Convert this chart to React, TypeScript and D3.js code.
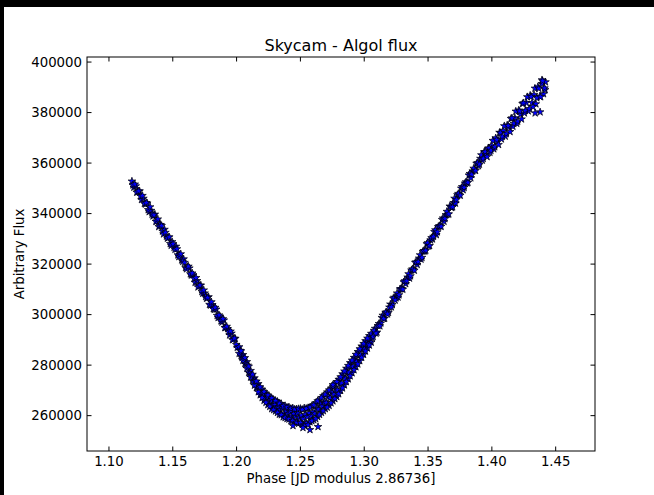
import React from "react";
import * as d3 from "d3";

/* ---------- data ---------- */
const xTicks = [1.1, 1.15, 1.2, 1.25, 1.3, 1.35, 1.4, 1.45];
const yTicks = [260000, 280000, 300000, 320000, 340000, 360000, 380000, 400000];

// descending branch (left side of the dip)
const fallPhase = [
  1.118, 1.1195, 1.121, 1.1225, 1.124, 1.1255, 1.127, 1.1285, 1.13, 1.1315,
  1.133, 1.1345, 1.136, 1.1375, 1.139, 1.1405, 1.142, 1.1435, 1.145, 1.1465,
  1.148, 1.1495, 1.151, 1.1525, 1.154, 1.1555, 1.157, 1.1585, 1.16, 1.1615,
  1.163, 1.1645, 1.166, 1.1675, 1.169, 1.1705, 1.172, 1.1735, 1.175, 1.1765,
  1.178, 1.1795, 1.181, 1.1825, 1.184, 1.1855, 1.187, 1.1885, 1.19, 1.1915,
  1.193, 1.1945, 1.196, 1.1975, 1.199, 1.2005,
];
const fallFlux = [
  352800, 350400, 350900, 348600, 348900, 345500, 346000, 343700, 344100, 340700,
  341200, 339000, 339700, 337000, 334800, 335600, 333000, 333700, 331000, 330600,
  328100, 328800, 326600, 327000, 323600, 323700, 321600, 322000, 318600, 318900,
  318400, 315600, 315700, 312700, 313400, 311300, 311600, 308400, 308500, 306400,
  307000, 303700, 303900, 302000, 302100, 298800, 299300, 297000, 297800, 294900,
  294400, 291900, 292600, 290200, 290500, 287000,
];
const fallPhase2 = [
  1.11875, 1.12025, 1.12175, 1.12325, 1.12475, 1.12625, 1.12775, 1.12925, 1.13075, 1.13225,
  1.13375, 1.13525, 1.13675, 1.13825, 1.13975, 1.14125, 1.14275, 1.14425, 1.14575, 1.14725,
  1.14875, 1.15025, 1.15175, 1.15325, 1.15475, 1.15625, 1.15775, 1.15925, 1.16075, 1.16225,
  1.16375, 1.16525, 1.16675, 1.16825, 1.16975, 1.17125, 1.17275, 1.17425, 1.17575, 1.17725,
  1.17875, 1.18025, 1.18175, 1.18325, 1.18475, 1.18625, 1.18775, 1.18925, 1.19075, 1.19225,
  1.19375, 1.19525, 1.19675, 1.19825, 1.19975,
];
const fallFlux2 = [
  351300, 351600, 348400, 348900, 346900, 347100, 344000, 344300, 341500, 342600,
  339700, 339400, 336900, 337800, 335400, 335200, 331900, 332500, 330200, 330700,
  327400, 328000, 325800, 326000, 322900, 324000, 321000, 320600, 318100, 319100,
  316100, 316400, 314300, 314600, 310900, 311600, 309100, 309700, 307100, 306700,
  304000, 305000, 302300, 302800, 299600, 299800, 297500, 298300, 294800, 295300,
  293300, 293400, 290000, 290600, 288100,
];

// bottom of the dip
const dipPhase = [
  1.202, 1.2035, 1.205, 1.2065, 1.208, 1.2095, 1.211, 1.2125, 1.214, 1.2155,
  1.217, 1.2185, 1.22, 1.2215, 1.223, 1.2245, 1.226, 1.2275, 1.229, 1.2305,
  1.232, 1.2335, 1.235, 1.2365, 1.238, 1.2395, 1.241, 1.2425, 1.244, 1.2455,
  1.247, 1.2485, 1.25, 1.2515, 1.253, 1.2545, 1.256, 1.2575, 1.259, 1.2605,
  1.262, 1.2635, 1.265, 1.2665, 1.268, 1.2695, 1.271, 1.2725, 1.274, 1.2755,
  1.277, 1.2785, 1.28, 1.2815, 1.283, 1.2845, 1.286, 1.2875, 1.289, 1.2905,
  1.292, 1.2935, 1.295, 1.2965, 1.298, 1.2995, 1.301, 1.3025, 1.304, 1.3055,
];
const dipFluxA = [
  287200, 283700, 284100, 280600, 281300, 277100, 277800, 273900, 274900, 271000,
  272600, 268200, 270400, 266000, 268800, 264300, 267400, 262700, 266200, 261800,
  265600, 260500, 264700, 259500, 263900, 258800, 263400, 257900, 263000, 257600,
  262600, 256900, 262800, 256500, 263000, 257000, 263100, 257500, 263900, 258300,
  265000, 259600, 266200, 261200, 267800, 262700, 269300, 264000, 270800, 265800,
  272500, 267500, 274300, 269900, 276500, 272100, 278700, 274500, 280900, 276900,
  283000, 279300, 285300, 281700, 287500, 284200, 289600, 286700, 291600, 289000,
];
const dipFluxB = [
  284600, 285600, 281800, 282900, 278700, 279500, 275200, 276300, 272000, 273600,
  269400, 271300, 267100, 269500, 265200, 268100, 263600, 266900, 262300, 265900,
  261200, 264800, 260300, 263800, 259200, 263300, 258600, 262800, 258000, 262500,
  257300, 262700, 257200, 262400, 256200, 262800, 256300, 263300, 257900, 264200,
  258800, 265800, 260400, 267100, 261900, 268400, 263300, 270100, 265000, 271600,
  266700, 273400, 268600, 275300, 270900, 277600, 273400, 279800, 275700, 281900,
  278100, 284200, 280400, 286400, 283000, 288500, 285500, 290600, 287900, 292500,
];
const dipPhase2 = [
  1.20275, 1.20425, 1.20575, 1.20725, 1.20875, 1.21025, 1.21175, 1.21325, 1.21475, 1.21625,
  1.21775, 1.21925, 1.22075, 1.22225, 1.22375, 1.22525, 1.22675, 1.22825, 1.22975, 1.23125,
  1.23275, 1.23425, 1.23575, 1.23725, 1.23875, 1.24025, 1.24175, 1.24325, 1.24475, 1.24625,
  1.24775, 1.24925, 1.25075, 1.25225, 1.25375, 1.25525, 1.25675, 1.25825, 1.25975, 1.26125,
  1.26275, 1.26425, 1.26575, 1.26725, 1.26875, 1.27025, 1.27175, 1.27325, 1.27475, 1.27625,
  1.27775, 1.27925, 1.28075, 1.28225, 1.28375, 1.28525, 1.28675, 1.28825, 1.28975, 1.29125,
  1.29275, 1.29425, 1.29575, 1.29725, 1.29875, 1.30025, 1.30175, 1.30325, 1.30475, 1.30625,
];
const dipFluxC = [
  285800, 283000, 282600, 280300, 279900, 276700, 276000, 273400, 273500, 271300,
  271100, 268800, 268800, 266600, 267200, 265500, 266100, 264000, 264300, 262800,
  263500, 262200, 263000, 260900, 261800, 260600, 261500, 259800, 260800, 259600,
  261000, 259200, 260100, 258900, 260400, 259500, 261000, 259900, 261400, 260800,
  262800, 262500, 264500, 263800, 265400, 265100, 267400, 267100, 269100, 268400,
  270400, 270100, 272600, 272800, 275100, 274600, 277000, 277100, 279600, 279500,
  281800, 281400, 283800, 284100, 286700, 286400, 288600, 288400, 290600, 290800,
];
const lowPhase = [1.2442, 1.252, 1.2575, 1.2638, 1.2755];
const lowFlux = [256000, 255200, 254400, 255600, 272200];

// rising branch (right side of the dip)
const risePhase = [
  1.307, 1.3085, 1.31, 1.3115, 1.313, 1.3145, 1.316, 1.3175, 1.319, 1.3205,
  1.322, 1.3235, 1.325, 1.3265, 1.328, 1.3295, 1.331, 1.3325, 1.334, 1.3355,
  1.337, 1.3385, 1.34, 1.3415, 1.343, 1.3445, 1.346, 1.3475, 1.349, 1.3505,
  1.352, 1.3535, 1.355, 1.3565, 1.358, 1.3595, 1.361, 1.3625, 1.364, 1.3655,
  1.367, 1.3685, 1.37, 1.3715, 1.373, 1.3745, 1.376, 1.3775, 1.379, 1.3805,
  1.382, 1.3835, 1.385, 1.3865, 1.388, 1.3895, 1.391, 1.3925, 1.394, 1.3955,
  1.397, 1.3985, 1.4, 1.4015, 1.403, 1.4045, 1.406, 1.4075, 1.409, 1.4105,
  1.412, 1.4135, 1.415, 1.4165, 1.418, 1.4195, 1.421, 1.4225, 1.424, 1.4255,
  1.427, 1.4285, 1.43, 1.4315, 1.433, 1.4345, 1.436, 1.4375, 1.439, 1.4405,
  1.442, 1.4393, 1.4378, 1.4339, 1.4417,
];
const riseFlux = [
  291300, 294500, 293000, 296400, 296600, 299700, 298500, 301000, 300800, 304100,
  303900, 306800, 306600, 306900, 310100, 310200, 312900, 312200, 314800, 314400,
  317600, 317900, 320600, 319800, 322300, 321900, 325000, 325100, 328000, 327100,
  329500, 329900, 332800, 331600, 334800, 335100, 337600, 336900, 339500, 339700,
  342900, 342300, 344300, 344100, 347400, 347500, 350000, 349400, 352000, 352100,
  355200, 354100, 356800, 357300, 359800, 358900, 361800, 361100, 364400, 363200,
  365800, 364200, 366900, 365600, 369900, 368500, 372100, 369500, 372800, 370600,
  375000, 374200, 377600, 374500, 377900, 375700, 380900, 379200, 383500, 379800,
  383900, 380600, 386800, 383900, 387100, 383400, 390100, 386400, 391400, 387400,
  392100, 392900, 380200, 379800, 389000,
];
const risePhase2 = [
  1.30775, 1.30925, 1.31075, 1.31225, 1.31375, 1.31525, 1.31675, 1.31825, 1.31975, 1.32125,
  1.32275, 1.32425, 1.32575, 1.32725, 1.32875, 1.33025, 1.33175, 1.33325, 1.33475, 1.33625,
  1.33775, 1.33925, 1.34075, 1.34225, 1.34375, 1.34525, 1.34675, 1.34825, 1.34975, 1.35125,
  1.35275, 1.35425, 1.35575, 1.35725, 1.35875, 1.36025, 1.36175, 1.36325, 1.36475, 1.36625,
  1.36775, 1.36925, 1.37075, 1.37225, 1.37375, 1.37525, 1.37675, 1.37825, 1.37975, 1.38125,
  1.38275, 1.38425, 1.38575, 1.38725, 1.38875, 1.39025, 1.39175, 1.39325, 1.39475, 1.39625,
  1.39775, 1.39925, 1.40075, 1.40225, 1.40375, 1.40525, 1.40675, 1.40825, 1.40975, 1.41125,
  1.41275, 1.41425, 1.41575, 1.41725, 1.41875, 1.42025, 1.42175, 1.42325, 1.42475, 1.42625,
  1.42775, 1.42925, 1.43075, 1.43225, 1.43375, 1.43525, 1.43675, 1.43825, 1.43975, 1.44125,
];
const riseFlux2 = [
  293700, 292600, 295600, 295500, 298800, 298400, 300800, 300200, 302900, 303000,
  306400, 305700, 308500, 307800, 310200, 310000, 313300, 313300, 316100, 315300,
  318000, 317500, 320800, 320900, 323600, 322600, 325300, 325400, 328400, 327300,
  330400, 330900, 333500, 332700, 335100, 334900, 338200, 338000, 340800, 339800,
  342700, 342600, 346000, 345500, 347900, 347200, 350600, 350300, 352500, 352300,
  355800, 355500, 357900, 357000, 360100, 359500, 363200, 361800, 364500, 362500,
  365900, 365000, 368900, 366400, 369200, 367300, 372000, 370500, 374700, 371600,
  374800, 372400, 377800, 375700, 380500, 376500, 380500, 377400, 383800, 380800,
  386200, 381500, 386300, 382300, 389600, 385800, 389500, 386200, 392500, 389700,
];

/* ---------- layout ---------- */
const W = 654;
const H = 495;
const left = 87;
const right = 595;
const top = 57;
const bottom = 451;
const tick = 4.5;
const font = "'DejaVu Sans', sans-serif";

const x = d3.scaleLinear().domain([1.0828, 1.4808]).range([left, right]);
const y = d3.scaleLinear().domain([246000, 402000]).range([bottom, top]);
const star = d3.symbol().type(d3.symbolStar).size(18)()!;

const pairs = (ps: number[], fs: number[]) =>
  ps.map((p, i) => [p, fs[i]] as [number, number]);

const points: [number, number][] = [
  ...pairs(fallPhase, fallFlux),
  ...pairs(fallPhase2, fallFlux2),
  ...pairs(dipPhase, dipFluxA),
  ...pairs(dipPhase2, dipFluxC),
  ...pairs(dipPhase, dipFluxB),
  ...pairs(lowPhase, lowFlux),
  ...pairs(risePhase, riseFlux),
  ...pairs(risePhase2, riseFlux2),
];

export default function App() {
  return (
    <svg width={W} height={H} style={{ display: "block", background: "#fff" }}>
      <style>{"html,body{margin:0;padding:0;overflow:hidden;background:#fff}"}</style>
      {/* dark border at top and left edges */}
      <rect x={0} y={0} width={W} height={7} fill="#000" />
      <rect x={0} y={0} width={4} height={H} fill="#000" />

      {/* markers */}
      <g>
        {points.map(([p, f], i) => (
          <path
            key={i}
            d={star}
            transform={`translate(${x(p)},${y(f)})`}
            fill="#0000ff"
            stroke="#000"
            strokeWidth={0.7}
          />
        ))}
      </g>

      {/* frame */}
      <rect
        x={left}
        y={top}
        width={right - left}
        height={bottom - top}
        fill="none"
        stroke="#000"
        strokeWidth={1}
      />

      {/* x ticks */}
      {xTicks.map((t) => (
        <g key={t} stroke="#000" strokeWidth={1}>
          <line x1={x(t)} x2={x(t)} y1={bottom} y2={bottom - tick} />
          <line x1={x(t)} x2={x(t)} y1={top} y2={top + tick} />
        </g>
      ))}
      {xTicks.map((t) => (
        <text
          key={"xl" + t}
          x={x(t)}
          y={466}
          textAnchor="middle"
          fontFamily={font}
          fontSize={13.3}
          fill="#000"
        >
          {d3.format(".2f")(t)}
        </text>
      ))}

      {/* y ticks */}
      {yTicks.map((t) => (
        <g key={t} stroke="#000" strokeWidth={1}>
          <line x1={left} x2={left + tick} y1={y(t)} y2={y(t)} />
          <line x1={right} x2={right - tick} y1={y(t)} y2={y(t)} />
        </g>
      ))}
      {yTicks.map((t) => (
        <text
          key={"yl" + t}
          x={82}
          y={y(t) + 4.8}
          textAnchor="end"
          fontFamily={font}
          fontSize={13.3}
          fill="#000"
        >
          {t}
        </text>
      ))}

      {/* titles */}
      <text
        x={(left + right) / 2}
        y={51}
        textAnchor="middle"
        fontFamily={font}
        fontSize={16}
        fill="#000"
      >
        Skycam - Algol flux
      </text>
      <text
        x={(left + right) / 2}
        y={483}
        textAnchor="middle"
        fontFamily={font}
        fontSize={13.3}
        fill="#000"
      >
        Phase [JD modulus 2.86736]
      </text>
      <text
        transform={`translate(24,${(top + bottom) / 2}) rotate(-90)`}
        textAnchor="middle"
        fontFamily={font}
        fontSize={13.3}
        fill="#000"
      >
        Arbitrary Flux
      </text>
    </svg>
  );
}
